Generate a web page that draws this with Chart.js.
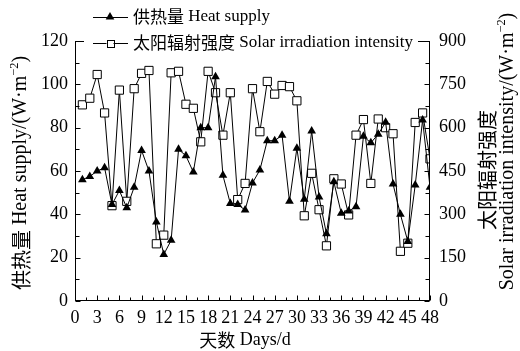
<!DOCTYPE html>
<html>
<head>
<meta charset="utf-8">
<script src="https://cdn.jsdelivr.net/npm/chart.js@4.4.1/dist/chart.umd.min.js"></script>
<style>
  html, body { margin: 0; padding: 0; background: #fff; }
  canvas { display: block; }
</style>
</head>
<body>
<canvas id="c" width="520" height="351"></canvas>
<script>
// Day index (d)
const days = [1, 2, 3, 4, 5, 6, 7, 8, 9, 10, 11, 12, 13, 14, 15, 16, 17, 18, 19, 20, 21, 22, 23, 24,
              25, 26, 27, 28, 29, 30, 31, 32, 33, 34, 35, 36, 37, 38, 39, 40, 41, 42, 43, 44, 45, 46, 47, 48];

// 供热量 Heat supply, W·m⁻² (left axis)
const heatSupply = [56, 57.5, 60, 61.5, 44.5, 51, 43, 52.5, 69.5, 60, 36.5, 21.5, 28, 70, 67, 59.5,
                    80, 80, 103.5, 58, 45, 44.5, 42, 54.5, 60.5, 74, 74, 76.5, 46, 70.5, 47, 78.5,
                    48, 31, 55, 40.5, 41.5, 43.5, 76, 73, 77, 82.5, 54, 40, 27.5, 53.5, 83.5, 52.5];

// 太阳辐射强度 Solar irradiation intensity, W·m⁻² (right axis)
const solarIrradiation = [679, 702, 784, 651, 330, 730, 345, 735, 788, 798, 198, 228, 790, 795, 681, 667,
                          551, 795, 721, 574, 721, 351, 407, 735, 586, 760, 716, 746, 742, 693, 295, 442,
                          316, 191, 423, 405, 298, 574, 628, 407, 630, 600, 579, 172, 200, 618, 651, 492];

// Axis ranges and tick steps
const xRange = [0, 48], xStep = 3;
const leftRange = [0, 120], leftStep = 20;
const rightRange = [0, 900], rightStep = 150;

// Text
const heatLabel = '供热量 Heat supply';
const solarLabel = '太阳辐射强度 Solar irradiation intensity';
const xTitle = '天数 Days/d';
const unitPre = '/(W·m', unitExp = '−2', unitPost = ')';
const leftTitle = '供热量 Heat supply';
const rightTitleTop = '太阳辐射强度';
const rightTitleBottom = 'Solar irradiation intensity';

const SERIF = '"Liberation Serif", "Times New Roman", serif';
const CJK = '"Noto Sans CJK SC", sans-serif';
const FS_TICK = 18;    // tick labels
const FS_LEGEND = 17;  // legend entries
const FS_TITLE = 20;   // y-axis titles
const FS_XTITLE = 18;  // x-axis title

// Split a string into runs of Chinese and Latin text, each with its own font
function runs(text, sup, size) {
  if (sup) return [{ t: text, font: (size * 0.62) + 'px ' + SERIF, dy: -size * 0.33 }];
  const out = [];
  const re = /([\u3400-\u9fff]+)|([^\u3400-\u9fff]+)/g;
  let m;
  while ((m = re.exec(text))) {
    if (m[1]) out.push({ t: m[1], font: size + 'px ' + CJK, dy: 0 });
    else out.push({ t: m[2], font: size + 'px ' + SERIF, dy: 0 });
  }
  return out;
}

// Draw mixed text pieces; align 'left' starts at x, 'center' centres on x
function drawMixed(ctx, pieces, size, x, y, align) {
  const items = [];
  pieces.forEach(p => runs(p[0], p[1], size).forEach(r => items.push(r)));
  let w = 0;
  items.forEach(r => { ctx.font = r.font; r.w = ctx.measureText(r.t).width; w += r.w; });
  let cx = align === 'center' ? x - w / 2 : x;
  ctx.textAlign = 'left';
  ctx.textBaseline = 'middle';
  items.forEach(r => { ctx.font = r.font; ctx.fillText(r.t, cx, y + r.dy); cx += r.w; });
}

function drawTriangle(ctx, x, y, r) {
  ctx.beginPath();
  ctx.moveTo(x, y - r);
  ctx.lineTo(x + r * 0.866, y + r * 0.5);
  ctx.lineTo(x - r * 0.866, y + r * 0.5);
  ctx.closePath();
  ctx.fillStyle = '#000';
  ctx.fill();
}

function drawSquare(ctx, x, y, half) {
  ctx.fillStyle = '#fff';
  ctx.fillRect(x - half, y - half, half * 2, half * 2);
  ctx.strokeStyle = '#000';
  ctx.lineWidth = 1;
  ctx.strokeRect(Math.round(x - half) + 0.5, Math.round(y - half) + 0.5, half * 2, half * 2);
}

// Frame, inward ticks, legend and axis titles
const decorations = {
  id: 'decorations',
  afterDatasetsDraw(chart) {
    const ctx = chart.ctx;
    const { left, right, top, bottom } = chart.chartArea;
    const xs = chart.scales.x, yl = chart.scales.y, yr = chart.scales.y1;
    const L = Math.round(left) + 0.5, R = Math.round(right) - 0.5;
    const T = Math.round(top) + 0.5, B = Math.round(bottom) - 0.5;
    ctx.save();
    ctx.strokeStyle = '#000';
    ctx.lineWidth = 1;
    ctx.strokeRect(L, T, R - L, B - T);

    ctx.beginPath();
    for (let v = xRange[0]; v <= xRange[1]; v += xStep / 2) {
      const px = Math.round(xs.getPixelForValue(v)) + 0.5;
      const len = (v % xStep === 0) ? 5 : 3;
      ctx.moveTo(px, B); ctx.lineTo(px, B - len);
    }
    for (let v = leftRange[0]; v <= leftRange[1]; v += leftStep / 2) {
      const py = Math.round(yl.getPixelForValue(v)) + 0.5;
      const len = (v % leftStep === 0) ? 5 : 4;
      ctx.moveTo(L, py); ctx.lineTo(L + len, py);
    }
    for (let v = rightRange[0]; v <= rightRange[1]; v += rightStep / 2) {
      const py = Math.round(yr.getPixelForValue(v)) + 0.5;
      const len = (v % rightStep === 0) ? 5 : 4;
      ctx.moveTo(R, py); ctx.lineTo(R - len, py);
    }
    ctx.stroke();

    // Legend (second row sits on the top border with a white backing)
    const lx0 = 93, lx1 = 128, mx = 110, tx = 133;
    const row1 = 17, row2 = 43;
    ctx.fillStyle = '#fff';
    ctx.fillRect(84, row2 - 9, 334, 18);
    ctx.beginPath();
    ctx.moveTo(lx0, row1 + 0.5); ctx.lineTo(lx1, row1 + 0.5);
    ctx.moveTo(lx0, row2 + 0.5); ctx.lineTo(lx1, row2 + 0.5);
    ctx.strokeStyle = '#000';
    ctx.stroke();
    drawTriangle(ctx, mx, row1, 5);
    drawSquare(ctx, mx, row2 + 0.5, 3.5);
    ctx.fillStyle = '#000';
    drawMixed(ctx, [[heatLabel, false]], FS_LEGEND, tx, row1, 'left');
    drawMixed(ctx, [[solarLabel, false]], FS_LEGEND, tx, row2, 'left');

    // X title
    drawMixed(ctx, [[xTitle, false]], FS_XTITLE, 245, 340, 'center');

    // Left title
    ctx.save();
    ctx.translate(21, 173);
    ctx.rotate(-Math.PI / 2);
    ctx.fillStyle = '#000';
    drawMixed(ctx, [[leftTitle + unitPre, false], [unitExp, true], [unitPost, false]], FS_TITLE, 0, 0, 'center');
    ctx.restore();

    // Right titles
    ctx.save();
    ctx.translate(487, 170);
    ctx.rotate(-Math.PI / 2);
    ctx.fillStyle = '#000';
    drawMixed(ctx, [[rightTitleTop, false]], FS_TITLE, 0, 0, 'center');
    ctx.restore();

    ctx.save();
    ctx.translate(508, 151.5);
    ctx.rotate(-Math.PI / 2);
    ctx.fillStyle = '#000';
    drawMixed(ctx, [[rightTitleBottom + unitPre, false], [unitExp, true], [unitPost, false]], FS_TITLE, 0, 0, 'center');
    ctx.restore();

    ctx.restore();
  }
};

const tickFont = { family: SERIF, size: FS_TICK };

new Chart(document.getElementById('c'), {
  type: 'line',
  data: {
    datasets: [
      {
        label: heatLabel,
        data: days.map((d, i) => ({ x: d, y: heatSupply[i] })),
        yAxisID: 'y',
        borderColor: '#000',
        borderWidth: 1,
        pointStyle: 'triangle',
        pointRadius: 5,
        pointBackgroundColor: '#000',
        pointBorderColor: '#000',
        pointBorderWidth: 0,
        tension: 0
      },
      {
        label: solarLabel,
        data: days.map((d, i) => ({ x: d, y: solarIrradiation[i] })),
        yAxisID: 'y1',
        borderColor: '#000',
        borderWidth: 1,
        pointStyle: 'rect',
        pointRadius: 5.8,
        pointBackgroundColor: '#fff',
        pointBorderColor: '#000',
        pointBorderWidth: 1,
        tension: 0
      }
    ]
  },
  options: {
    responsive: false,
    animation: false,
    devicePixelRatio: 1,
    layout: { padding: { top: 41, left: 0, right: 0, bottom: 0 } },
    plugins: { legend: { display: false }, tooltip: { enabled: false } },
    scales: {
      x: {
        type: 'linear',
        min: xRange[0], max: xRange[1],
        ticks: { stepSize: xStep, color: '#000', font: tickFont, padding: 6, maxRotation: 0, autoSkip: false },
        grid: { display: false, drawTicks: false },
        border: { display: false },
        afterFit(s) { s.height = 50; }
      },
      y: {
        position: 'left',
        min: leftRange[0], max: leftRange[1],
        ticks: { stepSize: leftStep, color: '#000', font: tickFont, padding: 7 },
        grid: { display: false, drawTicks: false },
        border: { display: false },
        afterFit(s) { s.width = 75; }
      },
      y1: {
        position: 'right',
        min: rightRange[0], max: rightRange[1],
        ticks: { stepSize: rightStep, color: '#000', font: tickFont, padding: 9 },
        grid: { display: false, drawTicks: false },
        border: { display: false },
        afterFit(s) { s.width = 90; }
      }
    }
  },
  plugins: [decorations]
});
</script>
</body>
</html>
